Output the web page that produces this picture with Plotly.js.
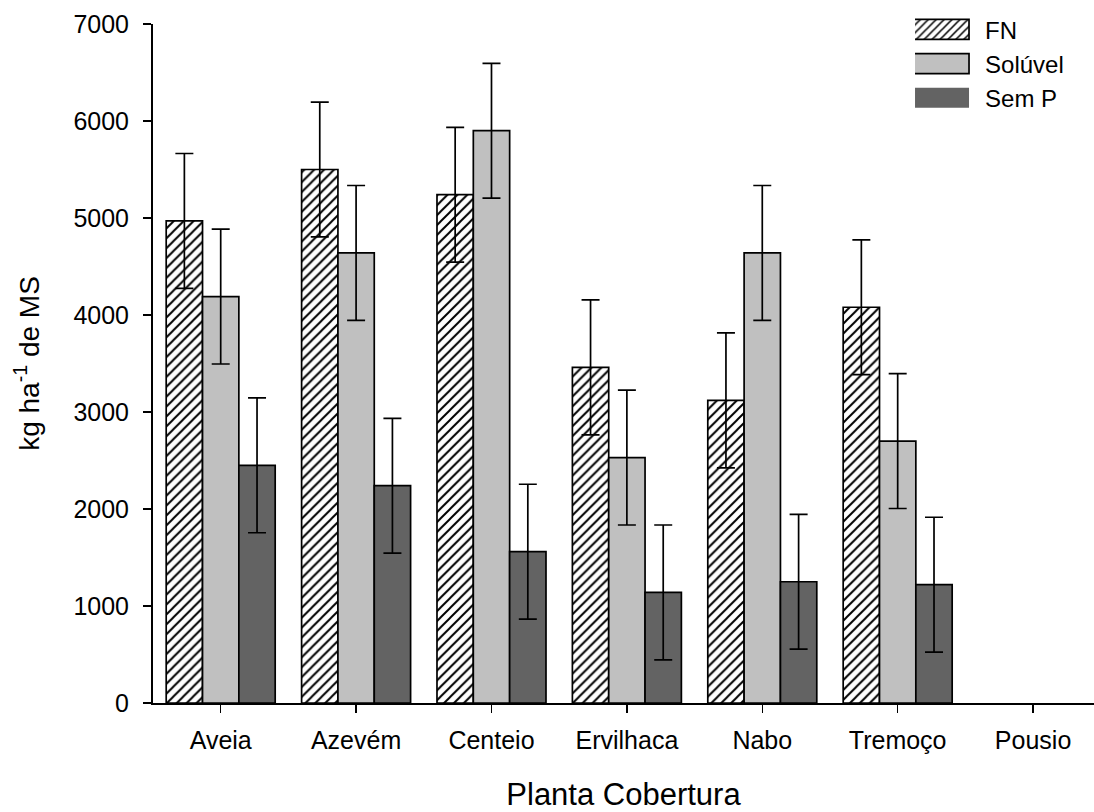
<!DOCTYPE html>
<html>
<head>
<meta charset="utf-8">
<script src="https://cdn.plot.ly/plotly-3.0.1.min.js"></script>
<style>html,body{margin:0;padding:0;background:#fff}#chart{width:1094px;height:812px}</style>
</head>
<body>
<div id="chart"></div>
<script>
const categories = ["Aveia", "Azevém", "Centeio", "Ervilhaca", "Nabo", "Tremoço", "Pousio"];
const fn      = [4970, 5500, 5240, 3460, 3120, 4080, null];
const soluvel = [4190, 4640, 5900, 2530, 4640, 2700, null];
const semP    = [2450, 2240, 1560, 1140, 1250, 1220, null];
const errFN      = [695, 695, 695, 695, 695, 695, 0];
const errSoluvel = [695, 695, 695, 695, 695, 695, 0];
const errSemP    = [695, 695, 695, 695, 695, 695, 0];
const yTicks = [0, 1000, 2000, 3000, 4000, 5000, 6000, 7000];

const FONT = "Liberation Sans, Arial, sans-serif";
const err = (arr) => ({type: "data", array: arr, visible: true, color: "#000", thickness: 1.7, width: 9});
const line = {color: "#000", width: 1.7};

const traces = [
  {type: "bar", name: "FN", x: categories, y: fn, error_y: err(errFN),
   marker: {color: "#ffffff", line: line, pattern: {shape: "/", fgcolor: "#000", bgcolor: "#fff", size: 7, solidity: 0.28}}},
  {type: "bar", name: "Solúvel", x: categories, y: soluvel, error_y: err(errSoluvel),
   marker: {color: "#c0c0c0", line: line}},
  {type: "bar", name: "Sem P", x: categories, y: semP, error_y: err(errSemP),
   marker: {color: "#636363", line: line}}
];

const layout = {
  width: 1094, height: 812,
  paper_bgcolor: "#fff", plot_bgcolor: "#fff",
  margin: {l: 153, r: 0, t: 24, b: 109},
  barmode: "group", bargap: 0.195, bargroupgap: 0,
  font: {family: FONT, color: "#000", size: 24},
  showlegend: true,
  legend: {x: 0.8098, y: 1.0245, xanchor: "left", yanchor: "top", bgcolor: "rgba(0,0,0,0)",
           font: {family: FONT, size: 24, color: "#000"}, tracegroupgap: 0, itemwidth: 60, traceorder: "normal"},
  xaxis: {
    type: "category", range: [-0.5, 6.45],
    showline: true, linecolor: "#000", linewidth: 2,
    ticks: "outside", ticklen: 8, tickwidth: 1.5, tickcolor: "#000",
    ticklabelstandoff: 6,
    showgrid: false, zeroline: false,
    tickfont: {family: FONT, size: 25, color: "#000"},
    title: {text: "Planta Cobertura", font: {family: FONT, size: 31, color: "#000"}, standoff: 34},
    automargin: false
  },
  yaxis: {
    range: [0, 7000], tickvals: yTicks, ticktext: yTicks.map(String),
    showline: true, linecolor: "#000", linewidth: 2,
    ticks: "outside", ticklen: 8, tickwidth: 1.5, tickcolor: "#000",
    ticklabelstandoff: 9,
    showgrid: false, zeroline: false,
    tickfont: {family: FONT, size: 25, color: "#000"},
    title: {text: "kg ha<sup>-1</sup> de MS", font: {family: FONT, size: 28, color: "#000"}, standoff: 26},
    automargin: false
  }
};

function enlargeLegend(gd) {
  const items = gd.querySelectorAll(".legend .traces");
  items.forEach((it, i) => {
    it.querySelectorAll(".legendpoints path").forEach(p => {
      p.setAttribute("d", "M19,10H-41V-10H19Z");
      if (i === 2) { p.style.strokeWidth = "0px"; }
      else { p.style.stroke = "#000"; p.style.strokeWidth = "1.7px"; }
    });
  });
}

Plotly.newPlot("chart", traces, layout, {displayModeBar: false, staticPlot: true}).then(enlargeLegend);
</script>
</body>
</html>
